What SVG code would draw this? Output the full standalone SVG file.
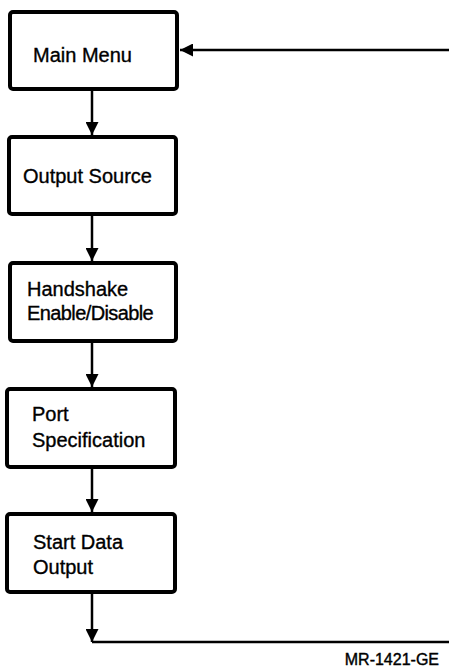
<svg xmlns="http://www.w3.org/2000/svg" width="449" height="667" viewBox="0 0 449 667">
<style>
.box{fill:#fff;stroke:#000;stroke-width:4}
.t{font-family:"Liberation Sans",Arial,sans-serif;font-size:20px;fill:#000;stroke:#000;stroke-width:0.35}
.c{fill:none;stroke:#000;stroke-width:2.5}
.lbl{font-family:"Liberation Sans",Arial,sans-serif;font-size:16px;fill:#000;stroke:#000;stroke-width:0.4}
</style>
<defs>
<marker id="ah" viewBox="0 0 13 13" refX="13" refY="6.5" markerWidth="13" markerHeight="13" markerUnits="userSpaceOnUse" orient="auto">
<path d="M0,0 L13,6.5 L0,13 Z" fill="#000"/>
</marker>
</defs>
<rect width="449" height="667" fill="#fff"/>
<g id="connectors">
<line class="c" x1="92" y1="89" x2="92" y2="135" marker-end="url(#ah)"/>
<line class="c" x1="92" y1="214" x2="92" y2="261" marker-end="url(#ah)"/>
<line class="c" x1="92" y1="341" x2="92" y2="387" marker-end="url(#ah)"/>
<line class="c" x1="92" y1="467" x2="92" y2="512" marker-end="url(#ah)"/>
<line class="c" x1="92" y1="592" x2="92" y2="642" marker-end="url(#ah)"/>
<line class="c" x1="92" y1="642" x2="449" y2="642"/>
<line class="c" x1="449" y1="50" x2="180" y2="50" marker-end="url(#ah)"/>
</g>
<g id="main-menu">
<rect class="box" x="10" y="12" width="167" height="77" rx="3"/>
<text class="t" x="33" y="62">Main Menu</text>
</g>
<g id="output-source">
<rect class="box" x="9" y="137" width="167" height="77" rx="3"/>
<text class="t" x="23" y="183">Output Source</text>
</g>
<g id="handshake">
<rect class="box" x="10" y="263" width="166" height="78" rx="3"/>
<text class="t" x="27" y="296">Handshake</text>
<text class="t" x="27" y="320" letter-spacing="-0.6">Enable/Disable</text>
</g>
<g id="port-spec">
<rect class="box" x="7" y="389" width="168" height="78" rx="3"/>
<text class="t" x="32" y="421">Port</text>
<text class="t" x="32" y="447">Specification</text>
</g>
<g id="start-data">
<rect class="box" x="7" y="514" width="168" height="78" rx="3"/>
<text class="t" x="33" y="549">Start Data</text>
<text class="t" x="33" y="574">Output</text>
</g>
<text class="lbl" x="439" y="665" text-anchor="end">MR-1421-GE</text>
</svg>
